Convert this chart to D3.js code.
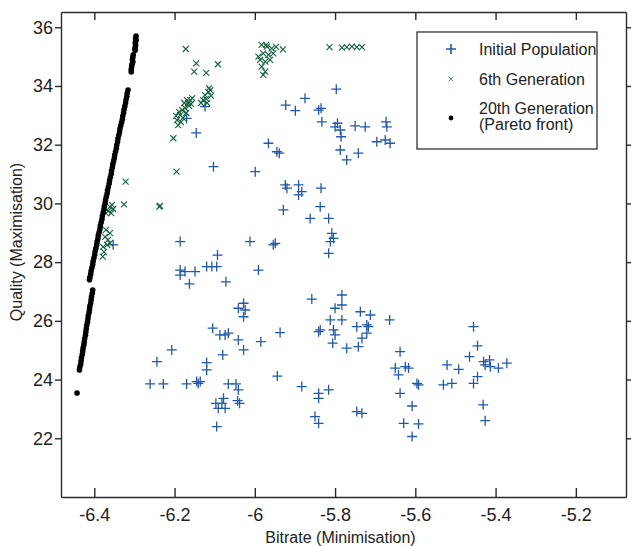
<!DOCTYPE html>
<html>
<head>
<meta charset="utf-8">
<script src="https://cdn.jsdelivr.net/npm/d3@7"></script>
<style>
  body { margin: 0; background: #fff; }
  text { font-family: "Liberation Sans", Arial, sans-serif; }
  .axis path, .axis line { stroke: #2a2a2a; stroke-width: 1.4; }
</style>
</head>
<body>
<script>
// tick values
const xTicks = [-6.4, -6.2, -6, -5.8, -5.6, -5.4, -5.2];
const yTicks = [22, 24, 26, 28, 30, 32, 34, 36];
const seriesNames = ["Initial Population", "6th Generation", "20th Generation", "(Pareto front)"];

// initial population: [bitrate, quality]
const initialPop = [
  [-6.124,33.30],[-6.170,32.90],[-6.146,32.40],[-5.923,33.35],[-5.899,33.16],[-5.875,33.58],
  [-5.841,33.18],[-5.966,32.05],[-5.945,31.76],[-5.939,31.71],[-6.103,31.25],[-5.999,31.08],
  [-5.924,30.63],[-5.891,30.63],[-5.883,30.40],[-5.891,30.29],[-5.920,30.52],[-5.929,29.78],
  [-5.862,29.49],[-6.186,28.70],[-6.012,28.70],[-5.954,28.59],[-5.949,28.64],[-6.093,28.24],
  [-6.186,27.73],[-6.186,27.56],[-6.174,27.68],[-6.149,27.68],[-6.120,27.85],[-6.107,27.85],
  [-6.095,27.85],[-6.163,27.26],[-6.072,27.33],[-5.991,27.73],[-6.028,26.60],[-6.041,26.43],
  [-6.024,26.37],[-6.028,26.14],[-5.858,26.74],[-6.105,25.75],[-6.087,25.52],[-6.074,25.52],
  [-6.066,25.58],[-6.041,25.35],[-6.028,25.01],[-5.985,25.29],[-5.937,25.60],[-5.841,25.63],
  [-6.207,25.01],[-6.244,24.61],[-6.080,24.84],[-6.120,24.58],[-6.120,24.33],[-6.261,23.85],
  [-6.228,23.85],[-6.170,23.85],[-6.145,23.93],[-6.136,23.93],[-6.141,23.87],[-6.066,23.85],
  [-6.047,23.85],[-6.041,23.65],[-6.043,23.28],[-6.038,23.19],[-6.097,23.19],[-6.082,23.19],
  [-6.091,23.02],[-6.074,23.02],[-6.095,22.40],[-6.078,23.36],[-5.944,24.12],[-5.883,23.76],
  [-5.841,23.53],[-5.850,22.74],[-5.841,22.51],[-5.797,33.89],[-5.835,33.24],[-5.833,32.78],
  [-5.794,32.73],[-5.787,32.50],[-5.800,32.61],[-5.785,32.27],[-5.750,32.64],[-5.725,32.61],
  [-5.673,32.78],[-5.671,32.61],[-5.696,32.10],[-5.675,32.16],[-5.663,32.05],[-5.787,31.82],
  [-5.771,31.48],[-5.742,31.71],[-5.835,30.52],[-5.837,29.89],[-5.816,29.49],[-5.808,28.98],
  [-5.804,28.81],[-5.812,28.70],[-5.816,28.30],[-5.783,26.88],[-5.783,26.54],[-5.800,26.43],
  [-5.812,26.03],[-5.783,26.03],[-5.837,25.69],[-5.804,25.69],[-5.800,25.52],[-5.806,25.24],
  [-5.771,25.07],[-5.742,25.12],[-5.737,26.31],[-5.712,26.20],[-5.721,25.86],[-5.717,25.80],
  [-5.746,25.80],[-5.721,25.58],[-5.733,25.41],[-5.664,26.03],[-5.638,24.95],[-5.650,24.39],
  [-5.625,24.44],[-5.617,24.39],[-5.642,24.16],[-5.596,23.87],[-5.592,23.82],[-5.521,24.50],
  [-5.530,23.82],[-5.816,23.65],[-5.841,23.36],[-5.638,23.53],[-5.608,23.10],[-5.746,22.91],
  [-5.733,22.85],[-5.629,22.51],[-5.592,22.49],[-5.608,22.06],[-5.455,25.80],[-5.445,25.15],
  [-5.465,24.78],[-5.430,24.61],[-5.415,24.67],[-5.426,24.50],[-5.413,24.44],[-5.393,24.39],
  [-5.372,24.56],[-5.492,24.35],[-5.509,23.87],[-5.455,23.87],[-5.445,24.10],[-5.431,23.14],
  [-5.426,22.60],[-6.353,28.59]
];

// 6th generation
const gen6 = [
  [-6.172,35.26],[-6.146,34.77],[-6.151,34.49],[-6.121,34.45],[-6.092,34.74],
  [-5.983,35.40],[-5.970,35.34],[-5.958,35.28],[-5.930,35.25],[-5.979,35.11],[-5.966,35.06],
  [-5.954,35.11],[-5.987,34.89],[-5.974,34.83],[-5.962,34.89],[-5.983,34.66],[-5.974,34.49],
  [-5.979,34.38],[-5.991,35.00],[-5.972,35.40],[-5.947,35.33],
  [-5.814,35.32],[-5.783,35.31],[-5.771,35.32],[-5.758,35.34],[-5.746,35.32],[-5.733,35.32],
  [-6.191,32.67],[-6.194,32.84],[-6.186,33.01],[-6.181,33.18],[-6.174,33.25],[-6.166,33.42],
  [-6.161,33.52],[-6.156,33.59],[-6.179,32.91],[-6.171,33.08],[-6.164,33.32],[-6.189,33.12],
  [-6.176,33.42],[-6.159,33.39],[-6.196,32.98],[-6.184,32.77],[-6.169,33.52],
  [-6.129,33.52],[-6.124,33.69],[-6.116,33.80],[-6.111,33.86],[-6.109,33.66],[-6.121,33.56],
  [-6.134,33.42],[-6.114,33.93],[-6.119,33.42],
  [-6.203,32.22],[-6.195,31.08],[-6.322,30.74],[-6.326,29.97],[-6.238,29.89],[-6.236,29.92],
  [-6.361,29.88],[-6.366,29.74],[-6.356,29.95],[-6.353,29.81],[-6.371,29.67],[-6.358,29.67],
  [-6.361,28.99],[-6.373,28.86],[-6.366,28.76],[-6.378,28.52],[-6.368,28.59],[-6.376,28.35],
  [-6.379,28.19],[-6.361,28.65],[-6.371,29.10]
];

// 20th generation, pareto front
const pareto = [
  [-6.296,35.70],[-6.297,35.62],[-6.296,35.55],[-6.298,35.47],[-6.297,35.40],[-6.298,35.33],
  [-6.299,35.26],[-6.298,35.22],
  [-6.303,35.06],[-6.304,34.98],[-6.305,34.90],[-6.304,34.82],[-6.306,34.74],[-6.307,34.65],
  [-6.308,34.56],[-6.308,34.48],
  [-6.316,33.86],[-6.318,33.75],[-6.319,33.64],[-6.321,33.53],[-6.322,33.42],[-6.324,33.31],
  [-6.326,33.20],[-6.327,33.09],[-6.329,32.98],[-6.330,32.87],[-6.332,32.76],[-6.334,32.65],
  [-6.336,32.54],[-6.337,32.43],[-6.339,32.32],[-6.341,32.21],[-6.342,32.10],[-6.344,31.99],
  [-6.345,31.88],[-6.347,31.77],[-6.349,31.66],[-6.350,31.55],[-6.352,31.44],[-6.354,31.33],
  [-6.355,31.22],[-6.357,31.11],[-6.358,31.00],[-6.360,30.89],[-6.362,30.78],[-6.363,30.67],
  [-6.365,30.56],[-6.367,30.45],[-6.368,30.34],[-6.370,30.23],[-6.372,30.12],[-6.373,30.01],
  [-6.375,29.90],[-6.376,29.79],[-6.378,29.68],[-6.380,29.57],[-6.381,29.46],[-6.383,29.35],
  [-6.385,29.24],[-6.386,29.13],[-6.388,29.02],[-6.390,28.91],[-6.391,28.80],[-6.393,28.69],
  [-6.394,28.58],[-6.396,28.47],[-6.398,28.36],[-6.399,28.25],[-6.401,28.14],[-6.403,28.03],
  [-6.404,27.92],[-6.406,27.81],[-6.408,27.70],[-6.409,27.59],[-6.411,27.48],[-6.412,27.40],
  [-6.404,27.05],[-6.405,26.94],[-6.407,26.83],[-6.408,26.72],[-6.409,26.61],[-6.411,26.50],
  [-6.412,26.39],[-6.413,26.28],[-6.415,26.17],[-6.416,26.06],[-6.417,25.95],[-6.419,25.84],
  [-6.420,25.73],[-6.421,25.62],[-6.422,25.51],[-6.424,25.40],[-6.425,25.29],[-6.426,25.18],
  [-6.428,25.07],[-6.429,24.96],[-6.430,24.85],[-6.432,24.74],[-6.433,24.63],[-6.434,24.52],
  [-6.436,24.43],[-6.437,24.33],
  [-6.443,23.54]
];

var margin = { top: 12, right: 5, bottom: 49, left: 61 },
    width = 631 - margin.left - margin.right,
    height = 546 - margin.top - margin.bottom;

var blue = "#2358a8", green = "#15613e";

var xScale = d3.scaleLinear().domain([-6.483, -5.075]).range([0, width]);
var yScale = d3.scaleLinear().domain([20, 36.52]).range([height, 0]);

var svg = d3.select("body").append("svg")
    .attr("width", 631)
    .attr("height", 546)
    .append("g")
    .attr("transform", "translate(" + margin.left + "," + margin.top + ")");

var fmt = d => String(d);

// box: ticks inward on top/bottom, outward on the sides
svg.append("g").attr("class", "axis")
    .attr("transform", "translate(0," + height + ")")
    .call(d3.axisBottom(xScale).tickValues(xTicks).tickFormat(fmt).tickSizeInner(-9).tickSizeOuter(0).tickPadding(11))
    .selectAll("text").attr("font-size", "18px").attr("fill", "#222");

svg.append("g").attr("class", "axis")
    .call(d3.axisTop(xScale).tickValues(xTicks).tickFormat("").tickSizeInner(-8).tickSizeOuter(0));

svg.append("g").attr("class", "axis")
    .call(d3.axisLeft(yScale).tickValues(yTicks).tickFormat(fmt).tickSizeInner(6).tickSizeOuter(0).tickPadding(2))
    .selectAll("text").attr("font-size", "18px").attr("fill", "#222");

svg.append("g").attr("class", "axis")
    .attr("transform", "translate(" + width + ",0)")
    .call(d3.axisRight(yScale).tickValues(yTicks).tickFormat("").tickSizeInner(5).tickSizeOuter(0));

svg.selectAll(".axis text").attr("font-family", "Liberation Sans, Arial, sans-serif");

// markers
var plus = "M-5,0H5M0,-5V5";
var cross = "M-3,-3L3,3M-3,3L3,-3";

svg.append("g").selectAll("path")
    .data(initialPop)
    .enter()
    .append("path")
    .attr("d", plus)
    .attr("transform", d => `translate(${xScale(d[0])},${yScale(d[1])})`)
    .attr("stroke", blue)
    .attr("stroke-width", 1.3)
    .attr("fill", "none");

svg.append("g").selectAll("path")
    .data(gen6)
    .enter()
    .append("path")
    .attr("d", cross)
    .attr("transform", d => `translate(${xScale(d[0])},${yScale(d[1])})`)
    .attr("stroke", green)
    .attr("stroke-width", 1.1)
    .attr("fill", "none");

svg.append("g").selectAll("circle")
    .data(pareto)
    .enter()
    .append("circle")
    .attr("cx", d => xScale(d[0]))
    .attr("cy", d => yScale(d[1]))
    .attr("r", 2.8)
    .attr("fill", "#000");

// axis labels
svg.append("text")
    .text("Bitrate (Minimisation)")
    .attr("x", width / 2 - 3)
    .attr("y", height + 46)
    .attr("text-anchor", "middle")
    .attr("font-size", "16px")
    .attr("fill", "#222");

svg.append("text")
    .text("Quality (Maximisation)")
    .attr("transform", "rotate(-90)")
    .attr("x", -(230))
    .attr("y", -39)
    .attr("text-anchor", "middle")
    .attr("font-size", "16px")
    .attr("fill", "#222");

// legend
var lg = svg.append("g").attr("transform", "translate(" + (417 - margin.left) + "," + (32 - margin.top) + ")");
lg.append("rect")
    .attr("width", 180).attr("height", 117)
    .attr("fill", "#fff").attr("stroke", "#333").attr("stroke-width", 1.3);

lg.append("path").attr("d", plus).attr("transform", "translate(34,17)")
    .attr("stroke", blue).attr("stroke-width", 1.6).attr("fill", "none");
lg.append("path").attr("d", "M-2.5,-2.5L2.5,2.5M-2.5,2.5L2.5,-2.5").attr("transform", "translate(34,47)")
    .attr("stroke", "#5f8f78").attr("stroke-width", 1).attr("fill", "none");
lg.append("circle").attr("cx", 34).attr("cy", 86).attr("r", 2.4).attr("fill", "#000");

var rows = [[seriesNames[0], 23], [seriesNames[1], 53], [seriesNames[2], 82], [seriesNames[3], 98]];
lg.selectAll(".lt")
    .data(rows)
    .enter()
    .append("text")
    .attr("x", 62)
    .attr("y", d => d[1])
    .attr("font-size", "16px")
    .attr("fill", "#222")
    .text(d => d[0]);
</script>
</body>
</html>
